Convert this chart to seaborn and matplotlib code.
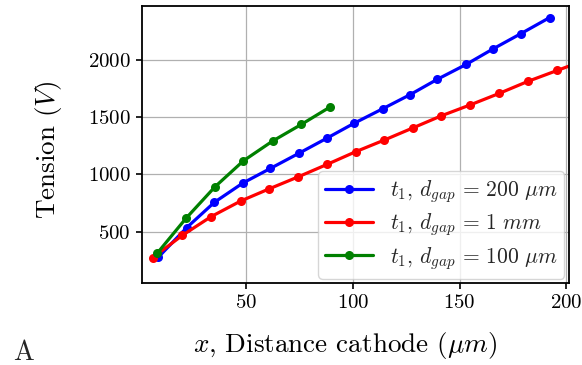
import matplotlib
matplotlib.use("Agg")
import matplotlib.pyplot as plt
import seaborn as sns
import pandas as pd

# Data
blue_x = [8.9, 22.2, 35.2, 48.5, 61.4, 74.7, 87.9, 100.7, 113.9, 126.9, 139.4, 153.0, 165.7, 178.8, 192.2]
blue_y = [276, 535, 757, 925, 1053, 1185, 1318, 1449, 1574, 1699, 1831, 1962, 2099, 2233, 2373]
red_x = [6.3, 20.2, 33.6, 47.5, 60.9, 74.5, 87.9, 101.3, 114.7, 128.2, 141.4, 155.0, 168.5, 181.9, 195.7, 209.2]
red_y = [273, 468, 631, 768, 875, 980, 1088, 1199, 1301, 1408, 1513, 1609, 1709, 1814, 1910, 2003]
green_x = [8.4, 21.9, 35.5, 48.8, 62.4, 75.9, 89.5]
green_y = [311, 617, 893, 1120, 1292, 1438, 1592]

labels = [r"$t_1$, $d_{gap}\,=\,200\ \mu m$",
          r"$t_1$, $d_{gap}\,=\,1\ mm$",
          r"$t_1$, $d_{gap}\,=\,100\ \mu m$"]
colors = ["#0000ff", "#ff0000", "#008000"]

frames = []
for lab, xs, ys in zip(labels, [blue_x, red_x, green_x], [blue_y, red_y, green_y]):
    frames.append(pd.DataFrame({"x": xs, "y": ys, "series": lab}))
df = pd.concat(frames, ignore_index=True)

sns.set_theme(style="whitegrid")
plt.rcParams.update({
    "font.family": "serif",
    "font.serif": ["cmr10"],
    "mathtext.fontset": "cm",
    "axes.unicode_minus": False,
    "axes.formatter.use_mathtext": True,
    "axes.edgecolor": "black",
    "axes.linewidth": 1.3,
    "grid.color": "#b0b0b0",
    "grid.linewidth": 0.9,
    "xtick.bottom": True,
    "ytick.left": True,
    "xtick.major.size": 4,
    "ytick.major.size": 4,
    "xtick.major.width": 1.2,
    "ytick.major.width": 1.2,
    "xtick.color": "black",
    "ytick.color": "black",
})

fig = plt.figure(figsize=(5.82, 3.65), dpi=100)
ax = fig.add_axes([0.244, 0.224, 0.734, 0.760])

sns.lineplot(data=df, x="x", y="y", hue="series", palette=dict(zip(labels, colors)),
             hue_order=labels, marker="o", markersize=6.5, markeredgewidth=0,
             linewidth=2.3, sort=False, ax=ax)

ax.set_xlim(1.3, 201.3)
ax.set_ylim(49, 2475)
ax.set_xticks([50, 100, 150, 200])
ax.set_yticks([500, 1000, 1500, 2000])
ax.tick_params(labelsize=15, pad=4)
ax.set_xlabel(r"$x$, Distance cathode $(\mu m)$", fontsize=19.5, color="black")
ax.set_ylabel(r"Tension $(V)$", fontsize=19.5, color="black")
ax.xaxis.set_label_coords(0.476, -0.17)
ax.yaxis.set_label_coords(-0.183, 0.481)

leg = ax.legend(loc="lower right", fontsize=15.5, frameon=True, handlelength=2.2,
                borderaxespad=0.22, labelspacing=0.3, borderpad=0.32,
                handletextpad=0.8)
leg.get_frame().set_edgecolor("#cccccc")

fig.text(0.022, 0.015, "A", fontsize=20)

fig.savefig("out.png", dpi=100)
